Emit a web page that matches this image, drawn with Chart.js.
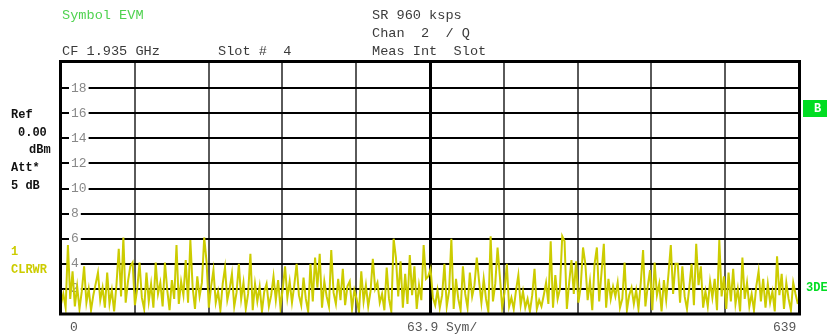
<!DOCTYPE html>
<html>
<head>
<meta charset="utf-8">
<script src="https://cdn.jsdelivr.net/npm/chart.js@4.4.1/dist/chart.umd.min.js"></script>
<style>
  html, body { margin: 0; padding: 0; background: #fff; }
  #wrap { width: 827px; height: 336px; position: relative; }
</style>
</head>
<body>
<div id="wrap"><canvas id="evmChart" width="827" height="336"></canvas></div>
<script>
// symbol axis: 0 .. 639, 10 divisions of 63.9
let symStep = 2;
let symMax = 639;
let yTicks = [2, 4, 6, 8, 10, 12, 14, 16, 18];

// EVM per symbol (%), read every 2nd symbol from the trace
let evm = [
  0.8, 1.6, 0.5, 5.5, 1.2, 3.4, 0.6, 2.2, 0.4, 1.8, 3.8, 0.9, 2.0, 0.3, 1.5, 2.4, 3.3, 1.1, 2.1, 0.5,
  3.3, 0.8, 1.9, 0.2, 2.3, 5.2, 1.4, 6.1, 0.9, 2.6, 3.8, 4.1, 0.7, 2.0, 4.1, 1.3, 0.4, 3.3, 1.0, 2.4,
  0.5, 4.1, 1.6, 2.5, 0.6, 4.1, 1.9, 0.3, 2.7, 1.2, 5.5, 0.8, 2.6, 1.5, 4.3, 0.9, 5.9, 2.1, 0.4, 3.0,
  1.4, 2.5, 6.1, 4.2, 0.5, 2.2, 3.5, 0.9, 1.8, 0.3, 2.4, 3.7, 1.1, 2.0, 3.2, 0.6, 1.7, 4.0, 1.2, 2.5,
  0.4, 1.6, 4.8, 0.3, 2.4, 1.0, 2.2, 0.2, 1.8, 2.4, 0.6, 1.5, 3.0, 1.1, 2.7, 0.5, 2.0, 3.8, 1.3, 2.6,
  0.9, 2.3, 4.0, 1.5, 0.7, 2.9, 1.2, 0.2, 4.0, 1.0, 4.5, 2.1, 4.8, 0.5, 2.6, 1.4, 0.6, 5.1, 1.7, 0.8,
  2.8, 1.1, 3.6, 0.7, 2.2, 2.6, 0.4, 1.9, 1.2, 0.1, 3.4, 1.0, 2.3, 0.6, 1.8, 4.4, 2.0, 2.5, 0.9, 1.6,
  0.3, 3.7, 1.2, 0.2, 6.0, 4.5, 1.4, 4.2, 0.5, 3.2, 0.8, 4.7, 1.5, 3.8, 0.4, 2.3, 1.1, 5.5, 2.8, 3.0,
  3.6, 1.3, 0.7, 1.9, 0.5, 1.5, 4.0, 0.6, 1.8, 6.0, 0.4, 2.8, 1.2, 0.3, 3.8, 1.6, 0.5, 3.3, 1.4, 2.3,
  4.5, 2.6, 0.9, 2.8, 1.2, 0.2, 6.2, 1.0, 2.4, 5.3, 3.0, 0.5, 1.7, 4.0, 0.6, 1.3, 0.4, 1.9, 3.1, 0.7,
  1.8, 0.5, 1.2, 0.2, 1.5, 3.6, 0.4, 1.1, 0.6, 1.5, 2.5, 0.8, 5.8, 0.5, 3.1, 1.2, 2.0, 6.2, 5.8, 0.4,
  2.5, 4.3, 1.6, 4.2, 0.9, 2.2, 5.3, 4.0, 1.1, 2.6, 0.3, 4.0, 5.3, 1.0, 3.3, 5.6, 0.5, 2.8, 1.2, 2.2,
  1.4, 2.5, 0.5, 1.2, 4.1, 0.3, 1.5, 2.1, 0.8, 1.9, 0.4, 2.5, 5.1, 0.6, 2.2, 3.5, 0.3, 4.1, 1.5, 2.4,
  0.2, 2.7, 1.1, 3.2, 5.5, 1.6, 4.0, 4.0, 0.9, 3.8, 1.4, 0.4, 2.1, 4.0, 0.7, 5.6, 2.3, 3.8, 0.5, 1.8,
  0.6, 2.6, 1.3, 2.8, 0.3, 5.9, 1.4, 3.0, 0.4, 3.3, 1.0, 3.6, 0.8, 2.0, 0.2, 4.5, 1.2, 2.5, 0.6, 1.6,
  0.3, 2.2, 3.4, 1.0, 2.8, 0.5, 2.4, 0.9, 1.8, 0.2, 4.6, 1.5, 3.2, 0.4, 2.5, 1.2, 0.3, 2.5, 1.6, 0.8
];

let symbols = evm.map((v, i) => i * symStep);
let points = evm.map((v, i) => ({ x: symbols[i], y: v }));

const MONO = '"Liberation Mono", "Courier New", monospace';

// all the instrument text around the plot
let annotations = {
  id: 'annotations',
  afterDraw(chart) {
    let c = chart.ctx;
    let a = chart.chartArea;
    c.save();
    // frame
    c.strokeStyle = '#000';
    c.lineWidth = 3;
    c.strokeRect(a.left - 0.5, a.top - 1.5, a.right - a.left + 1, a.bottom - a.top + 1.5);

    c.textBaseline = 'middle';
    c.textAlign = 'left';
    c.font = '13.6px ' + MONO;
    c.fillStyle = '#4fd24f';
    c.fillText('Symbol EVM', 62, 15);
    c.fillStyle = '#3a3a3a';
    c.fillText('SR 960 ksps', 372, 15);
    c.fillText('Chan  2  / Q', 372, 33);
    c.fillText('CF 1.935 GHz', 62, 51);
    c.fillText('Slot #  4', 218, 51);
    c.fillText('Meas Int  Slot', 372, 51);

    c.font = 'bold 12px ' + MONO;
    c.fillStyle = '#111';
    c.fillText('Ref', 11, 115);
    c.fillText('0.00', 18, 133);
    c.fillText('dBm', 29, 150);
    c.fillText('Att*', 11, 168);
    c.fillText('5 dB', 11, 186);

    c.fillStyle = '#cccc00';
    c.fillText('1', 11, 252);
    c.fillText('CLRWR', 11, 270);

    c.fillStyle = '#00dd22';
    c.fillRect(803, 100, 24, 17);
    c.fillText('3DE', 806, 288);
    c.fillStyle = '#fff';
    c.fillText('B', 814, 109);

    c.font = '13px ' + MONO;
    c.fillStyle = '#555';
    c.fillText('0', 70, 328);
    c.fillText('63.9 Sym/', 407, 328);
    c.fillText('639', 773, 328);
    c.restore();
  }
};

let evmChart = new Chart(document.getElementById('evmChart').getContext('2d'), {
  type: 'line',
  data: {
    datasets: [{
      label: 'EVM',
      data: points,
      borderColor: '#cccc00',
      borderWidth: 2,
      pointRadius: 0,
      tension: 0,
      fill: false
    }]
  },
  options: {
    responsive: false,
    animation: false,
    events: [],
    layout: { padding: { left: 61, right: 28, top: 63, bottom: 22 } },
    plugins: {
      legend: { display: false },
      tooltip: { enabled: false },
      title: { display: false }
    },
    scales: {
      x: {
        type: 'linear',
        min: 0,
        max: symMax,
        afterBuildTicks: s => { s.ticks = Array.from({ length: 11 }, (_, i) => ({ value: i * symMax / 10 })); },
        afterFit: s => { s.height = 0; },
        ticks: { display: false },
        border: { display: false },
        grid: {
          drawTicks: false,
          color: ctx => ctx.index === 5 ? '#000' : '#5a5a5a',
          lineWidth: ctx => ctx.index === 5 ? 3 : 2
        }
      },
      y: {
        min: 0,
        max: 20,
        afterBuildTicks: s => { s.ticks = yTicks.map(v => ({ value: v })); },
        afterFit: s => { s.width = 0; },
        border: { display: false },
        grid: { drawTicks: false, color: '#000', lineWidth: 2 },
        ticks: {
          mirror: true,
          padding: 10,
          color: '#888',
          font: { family: MONO, size: 13 },
          showLabelBackdrop: true,
          backdropColor: '#fff',
          backdropPadding: 2
        }
      }
    }
  },
  plugins: [annotations]
});
</script>
</body>
</html>
